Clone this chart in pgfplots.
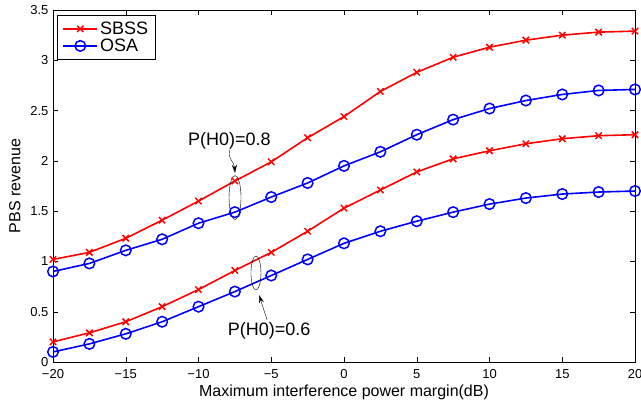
\documentclass[border=0pt]{standalone}
\usepackage{pgfplots}
\pgfplotsset{compat=1.18}
\usepackage{fontspec}
\setmainfont{Liberation Sans}
\usetikzlibrary{arrows.meta}
\begin{document}
\begin{tikzpicture}
\begin{axis}[
  scale only axis, width=582pt, height=352pt,
  xmin=-20, xmax=20, ymin=0, ymax=3.5,
  xtick={-20,-15,...,20}, ytick={0,0.5,...,3.5},
  xticklabels={−20,−15,−10,−5,0,5,10,15,20},
  tick align=inside, tick style={black, thin}, major tick length=5pt,
  /pgf/number format/assume math mode=true,
  ticklabel style={font=\fontsize{13}{14}\selectfont},
  xticklabel style={yshift=-4pt},
  yticklabel style={xshift=-1pt},
  xlabel={Maximum interference power margin(dB)},
  ylabel={PBS revenue},
  label style={font=\fontsize{16}{18}\selectfont},
  xlabel style={at={(axis description cs:0.5,-0.0966)}, anchor=base},
  ylabel style={at={(axis description cs:-0.0653,0.5)}, anchor=center},
  axis line style={black, line width=0.8pt},
  legend style={at={(0.007,0.986)}, anchor=north west, draw=black, line width=0.8pt,
    font=\fontsize{18}{20}\selectfont, inner xsep=5pt, inner ysep=5.5pt, row sep=1pt,
    nodes={inner xsep=2pt, inner ysep=1pt}},
  legend cell align=left,
  legend image code/.code={\draw[mark repeat=2,mark phase=2,#1] plot coordinates {(0pt,0pt) (17pt,0pt) (34pt,0pt)};},
]
\addplot[red, line width=1.6pt, mark=x, mark size=4.5pt, mark options={line width=1.5pt}] coordinates {
(-20,1.02) (-17.5,1.09) (-15,1.23) (-12.5,1.41) (-10,1.60) (-7.5,1.80) (-5,1.99) (-2.5,2.23)
(0,2.44) (2.5,2.69) (5,2.88) (7.5,3.03) (10,3.13) (12.5,3.20) (15,3.25) (17.5,3.28) (20,3.29)};
\addlegendentry{SBSS}
\addplot[blue, line width=1.6pt, mark=o, mark size=5.3pt, mark options={line width=1.5pt}] coordinates {
(-20,0.90) (-17.5,0.98) (-15,1.11) (-12.5,1.22) (-10,1.38) (-7.5,1.49) (-5,1.64) (-2.5,1.78)
(0,1.95) (2.5,2.09) (5,2.26) (7.5,2.41) (10,2.52) (12.5,2.60) (15,2.66) (17.5,2.70) (20,2.71)};
\addlegendentry{OSA}
\addplot[red, line width=1.6pt, mark=x, mark size=4.5pt, mark options={line width=1.5pt}, forget plot] coordinates {
(-20,0.20) (-17.5,0.29) (-15,0.40) (-12.5,0.55) (-10,0.72) (-7.5,0.91) (-5,1.09) (-2.5,1.30)
(0,1.53) (2.5,1.71) (5,1.89) (7.5,2.02) (10,2.10) (12.5,2.17) (15,2.22) (17.5,2.25) (20,2.26)};
\addplot[blue, line width=1.6pt, mark=o, mark size=5.3pt, mark options={line width=1.5pt}, forget plot] coordinates {
(-20,0.10) (-17.5,0.18) (-15,0.28) (-12.5,0.40) (-10,0.55) (-7.5,0.70) (-5,0.86) (-2.5,1.02)
(0,1.18) (2.5,1.30) (5,1.40) (7.5,1.49) (10,1.57) (12.5,1.63) (15,1.67) (17.5,1.69) (20,1.70)};
% annotations
\draw[black, thin] (axis cs:-7.49,1.635) ellipse [x radius=6pt, y radius=22pt];
\draw[black, thin] (axis cs:-6.05,0.885) ellipse [x radius=5pt, y radius=17pt];
\node[font=\fontsize{18}{20}\selectfont, inner sep=0pt] at (axis cs:-7.87,2.20) {P(H0)=0.8};
\node[font=\fontsize{18}{20}\selectfont, inner sep=0pt] at (axis cs:-5.15,0.313) {P(H0)=0.6};
\draw[-{Stealth[length=8pt,width=5pt]}, thin] (axis cs:-7.84,2.11) .. controls (axis cs:-8.05,2.02) and (axis cs:-7.55,2.0) .. (axis cs:-7.49,1.88);
\draw[-{Stealth[length=8pt,width=5pt]}, thin] (axis cs:-5.29,0.42) -- (axis cs:-5.84,0.666);
\end{axis}
\pgfresetboundingbox
\path[use as bounding box] ([shift={(-53pt,-41pt)}]current axis.south west) rectangle ([shift={(6pt,10pt)}]current axis.north east);
\end{tikzpicture}
\end{document}
